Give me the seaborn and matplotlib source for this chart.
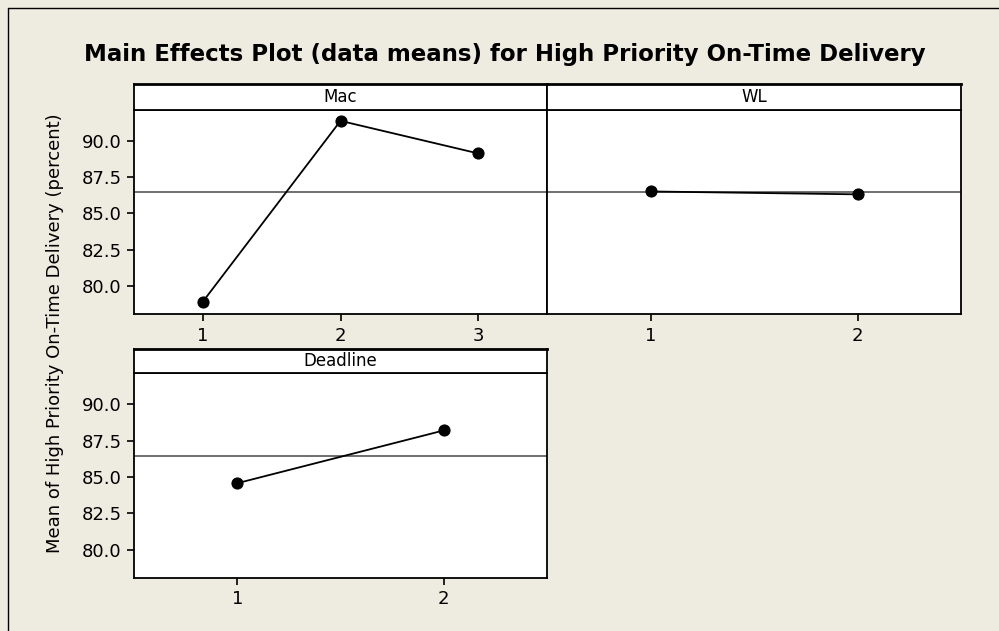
import numpy as np
import pandas as pd
import matplotlib
matplotlib.use("Agg")
import matplotlib.pyplot as plt
import seaborn as sns
from matplotlib.lines import Line2D

# data
mac_levels = [1, 2, 3]
mac_means = [78.9, 91.4, 89.15]
wl_levels = [1, 2]
wl_means = [86.52, 86.32]
deadline_levels = [1, 2]
deadline_means = [84.57, 88.2]
grand_mean = 86.45
yticks = [80.0, 82.5, 85.0, 87.5, 90.0]

title = "Main Effects Plot (data means) for High Priority On-Time Delivery"
ylabel = "Mean of High Priority On-Time Delivery (percent)"

# conf plot
sns.set_style("white")
plt.rcParams['font.family'] = ['DejaVu Sans']
plt.rcParams['text.color'] = 'black'
plt.rcParams['xtick.color'] = 'black'
plt.rcParams['ytick.color'] = 'black'
bg = '#eeebe1'

W, H = 999, 631
fig = plt.figure(figsize=(W / 100, H / 100), dpi=100, facecolor=bg)

def px_box(left, top, right, bottom):
    return [left / W, 1 - bottom / H, (right - left) / W, (bottom - top) / H]

def panel(name, levels, means, left, right, top, strip_bot, bottom, show_y):
    ax = fig.add_axes(px_box(left, strip_bot, right, bottom))
    ax.set_facecolor('white')
    ax.axhline(grand_mean, color='#555555', lw=1.2, zorder=1)
    df = pd.DataFrame({'level': levels, 'mean': means})
    sns.lineplot(data=df, x='level', y='mean', marker='o', color='black',
                 lw=1.3, markersize=8, markeredgecolor='black', ax=ax, zorder=3)
    ax.set_xlim(0.5, len(levels) + 0.5)
    ax.set_ylim(78.05, 92.15)
    ax.set_xticks(levels)
    ax.set_xticklabels([str(l) for l in levels], fontsize=13)
    ax.set_xlabel('')
    ax.set_ylabel('')
    if show_y:
        ax.set_yticks(yticks)
        ax.set_yticklabels([f"{v:.1f}" for v in yticks], fontsize=13)
    else:
        ax.set_yticks([])
    ax.tick_params(axis='both', direction='out', length=5, width=1.2,
                   color='black', pad=4, left=show_y, bottom=True)
    for s in ax.spines.values():
        s.set_color('black')
        s.set_linewidth(1.3)
    # strip header
    sx = fig.add_axes(px_box(left, top, right, strip_bot))
    sx.set_facecolor('white')
    sx.set_xticks([])
    sx.set_yticks([])
    for s in sx.spines.values():
        s.set_color('black')
        s.set_linewidth(1.3)
    sx.spines['top'].set_linewidth(2)
    sx.text(0.5, 0.5, name, ha='center', va='center', fontsize=12,
            transform=sx.transAxes)
    return ax

panel("Mac", mac_levels, mac_means, 134, 547, 84, 110, 314, True)
panel("WL", wl_levels, wl_means, 547, 961, 84, 110, 314, False)
panel("Deadline", deadline_levels, deadline_means, 134, 547, 349, 373, 578, True)

fig.text(505 / W, 1 - 55 / H, title, ha='center', va='center',
         fontsize=16.5, fontweight='bold')
fig.text(55 / W, 1 - 333 / H, ylabel, ha='center', va='center',
         rotation=90, fontsize=13)

# outer frame (top and left visible)
fig.add_artist(Line2D([8 / W, 8 / W], [0, 1 - 8 / H], color='black', lw=1,
                      transform=fig.transFigure))
fig.add_artist(Line2D([8 / W, 1], [1 - 8 / H, 1 - 8 / H], color='black', lw=1,
                      transform=fig.transFigure))

fig.savefig("out.png", dpi=100, facecolor=bg)
